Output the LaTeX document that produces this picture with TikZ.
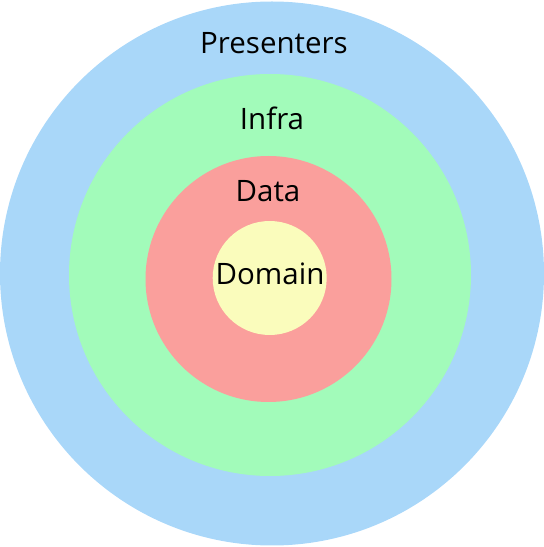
\documentclass[tikz,border=0pt]{standalone}
\usepackage{fontspec}
\setmainfont{Open Sans}
\definecolor{cblue}{HTML}{A9D7F9}
\definecolor{cgreen}{HTML}{A2FBBA}
\definecolor{cred}{HTML}{FA9F9C}
\definecolor{cyellow}{HTML}{FAFCBC}
\begin{document}
\begin{tikzpicture}[x=1pt,y=1pt,
  ring/.style={circle, inner sep=0pt, draw=none},
  lbl/.style={anchor=base, inner sep=0pt, font=\fontsize{29.5}{32}\selectfont}]
\useasboundingbox (0,0) rectangle (544,547);
\node[ring, fill=cblue, minimum size=544pt] (presenters) at (272,273.5) {};
\node[ring, fill=cgreen, minimum size=402pt] (infra) at (270,272) {};
\node[ring, fill=cred, minimum size=246pt] (data) at (268.5,268) {};
\node[ring, fill=cyellow, minimum size=114pt] (domain) at (269.7,269) {};
\node[lbl] (tpresenters) at (274,493) {Presenters};
\node[lbl] (tinfra) at (272,417) {Infra};
\node[lbl] (tdata) at (268,345) {Data};
\node[lbl] (tdomain) at (270,262) {Domain};
\end{tikzpicture}
\end{document}
